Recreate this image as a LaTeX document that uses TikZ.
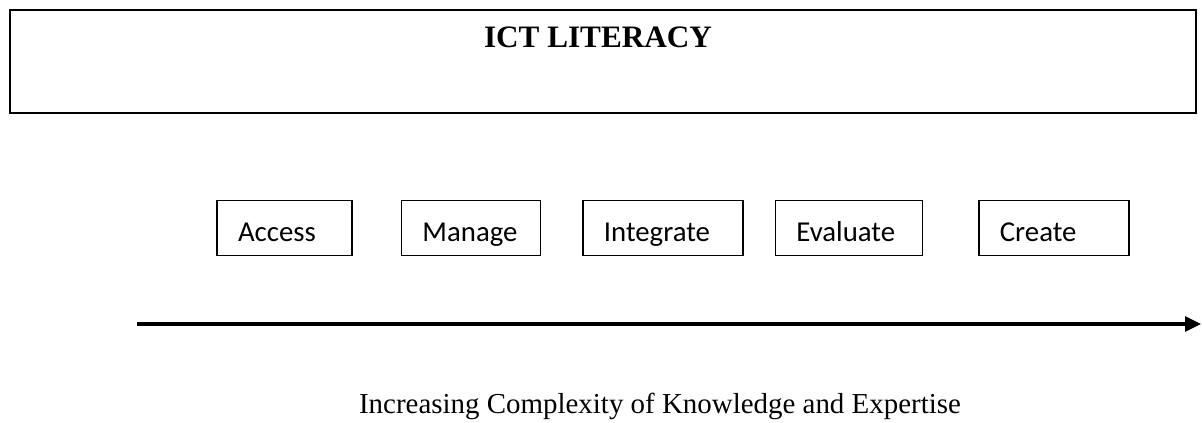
\documentclass[tikz,border=0pt]{standalone}
\usepackage{fontspec}
\setmainfont{Liberation Serif}
\newfontfamily\boxfont{Carlito}
\usetikzlibrary{positioning, arrows.meta}

\tikzset{
	stagebox/.style={draw, line width=1.1pt, minimum height=41.25pt, inner xsep=15.75pt,
		align=left, text height=2.05em, text depth=0pt, font=\boxfont\fontsize{21.6}{26}\selectfont},
}

\begin{document}
\begin{tikzpicture}[x=0.75pt, y=-0.75pt]
		\useasboundingbox (0,0) rectangle (1202,423);
		
		% Outer frame and heading
		\node[draw, line width=1.3pt, anchor=north west, minimum width=889.5pt, minimum height=77.25pt, inner sep=0pt] (frame) at (9,9) {};
		\node[anchor=base, font=\bfseries\fontsize{23.4}{28}\selectfont] (title) at (598,48) {ICT LITERACY};
		
		% Stages, left to right
		\node[stagebox, text width=69.75pt] (access) at (284.5,228) {Access};
		\node[stagebox, text width=72.75pt, right=36pt of access] (manage) {Manage};
		\node[stagebox, text width=88.5pt, right=30.75pt of manage] (integrate) {Integrate};
		\node[stagebox, text width=78.75pt, right=23.25pt of integrate] (evaluate) {Evaluate};
		\node[stagebox, text width=81pt, right=41.25pt of evaluate] (create) {Create};
		
		% Complexity axis
		\coordinate (start) at (137,324);
		\coordinate (tip) at (1201,324);
		\draw[line width=2.3pt, -{Triangle[length=12pt, width=11.25pt]}] (start) -- (tip);
		\node[anchor=base, font=\fontsize{21.7}{26}\selectfont] (axislabel) at (660,414) {Increasing Complexity of Knowledge and Expertise};
\end{tikzpicture}
\end{document}
